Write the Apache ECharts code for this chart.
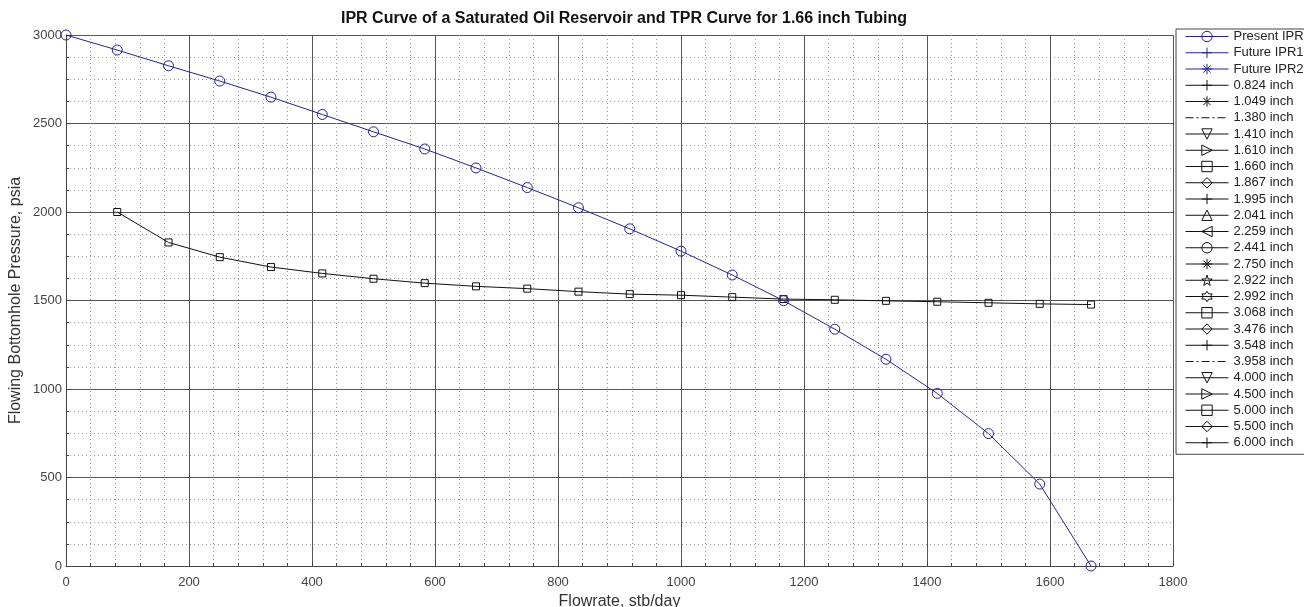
<!DOCTYPE html>
<html>
<head>
<meta charset="utf-8">
<script src="https://cdn.jsdelivr.net/npm/echarts@6/dist/echarts.min.js"></script>
<style>
  html, body { margin: 0; padding: 0; background: #fff; }
  #chart { width: 1304px; height: 607px; }
</style>
</head>
<body>
<div id="chart"></div>
<script>
// Flowrate steps (stb/day), qmax / 20
const flowrate = [0, 83.3, 166.7, 250, 333.3, 416.7, 500, 583.3, 666.7, 750, 833.3,
  916.7, 1000, 1083.3, 1166.7, 1250, 1333.3, 1416.7, 1500, 1583.3, 1666.7];

// Present IPR, flowing bottomhole pressure (psia)
const presentIpr = [3000, 2915, 2826, 2740, 2649, 2551, 2453, 2356, 2249, 2138, 2024,
  1905, 1779, 1644, 1499, 1338, 1168, 975, 748, 463, 0];

// TPR for 1.660 inch tubing, starts at the second flowrate
const tpr1660 = [2000, 1828, 1745, 1689, 1653, 1623, 1598, 1580, 1567, 1550,
  1536, 1530, 1519, 1508, 1504, 1498, 1493, 1487, 1481, 1477];

// Legend entries and their markers
const legendNames = ['Present IPR', 'Future IPR1', 'Future IPR2',
  '0.824 inch', '1.049 inch', '1.380 inch', '1.410 inch', '1.610 inch', '1.660 inch',
  '1.867 inch', '1.995 inch', '2.041 inch', '2.259 inch', '2.441 inch', '2.750 inch',
  '2.922 inch', '2.992 inch', '3.068 inch', '3.476 inch', '3.548 inch', '3.958 inch',
  '4.000 inch', '4.500 inch', '5.000 inch', '5.500 inch', '6.000 inch'];
const legendMarkers = ['circle', 'plus', 'star6', 'plus', 'star6', 'none', 'tdown', 'tright',
  'square', 'diamond', 'plus', 'tup', 'tleft', 'circle', 'star6', 'pent', 'hexa', 'square',
  'diamond', 'plus', 'none', 'tdown', 'tright', 'square', 'diamond', 'plus'];

const BLUE = '#25258c';
const INK = '#111';

const SYMBOLS = {
  circle: 'circle',
  square: 'rect',
  plus: 'path://M5,0L5,10M0,5L10,5',
  star6: 'path://M5,0L5,10M0,5L10,5M1.5,1.5L8.5,8.5M8.5,1.5L1.5,8.5',
  tdown: 'path://M0,0L10,0L5,9Z',
  tup: 'path://M5,0L10,9L0,9Z',
  tright: 'path://M0,0L9,5L0,10Z',
  tleft: 'path://M9,0L0,5L9,10Z',
  diamond: 'path://M3.5,0L7,6L3.5,12L0,6Z',
  pent: 'path://M5,0L6.2,3.6L10,3.6L7,5.9L8.1,9.5L5,7.3L1.9,9.5L3,5.9L0,3.6L3.8,3.6Z',
  hexa: 'path://M5,0L6.4,2.5L9.3,2.5L7.9,5L9.3,7.5L6.4,7.5L5,10L3.6,7.5L0.7,7.5L2.1,5L0.7,2.5L3.6,2.5Z',
  none: 'circle',
};

const seriesData = {
  'Present IPR': flowrate.map((q, i) => [q, presentIpr[i]]),
  '1.660 inch': tpr1660.map((p, i) => [flowrate[i + 1], p]),
};

const series = legendNames.map((name, i) => {
  const color = i < 3 ? BLUE : INK;
  const marker = legendMarkers[i];
  return {
    name: name,
    type: 'line',
    data: seriesData[name] || [],
    symbol: SYMBOLS[marker],
    symbolSize: marker === 'circle' ? 10 : 7,
    showSymbol: true,
    animation: false,
    lineStyle: {
      color: color,
      width: 1,
      type: marker === 'none' ? [8, 3, 2, 3] : 'solid',
    },
    itemStyle: {
      color: 'rgba(0,0,0,0)',
      borderColor: color,
      borderWidth: 1,
    },
    emphasis: { disabled: true },
    z: i === 0 ? 3 : 2,
  };
});

const legendData = legendNames.map((name, i) => {
  const color = i < 3 ? BLUE : INK;
  const hidden = legendMarkers[i] === 'none';
  return {
    name: name,
    itemStyle: {
      color: 'rgba(0,0,0,0)',
      borderColor: color,
      borderWidth: 1,
      opacity: hidden ? 0 : 1,
    },
    lineStyle: { color: color, width: 1 },
  };
});

const chart = echarts.init(document.getElementById('chart'), null, { renderer: 'canvas' });

chart.setOption({
  backgroundColor: '#fff',
  animation: false,
  textStyle: { fontFamily: 'Arial, "Liberation Sans", sans-serif' },
  title: {
    text: 'IPR Curve of a Saturated Oil Reservoir and TPR Curve for 1.66 inch Tubing',
    left: 619,
    top: 6,
    textAlign: 'center',
    textStyle: { fontSize: 16, fontWeight: 'bold', color: '#111' },
  },
  legend: {
    orient: 'vertical',
    left: 1176,
    top: 29,
    padding: [1, 6, 5, 9],
    itemWidth: 43,
    itemHeight: 13,
    itemGap: 3.25,
    selectedMode: false,
    backgroundColor: '#fff',
    borderColor: '#444',
    borderWidth: 1,
    textStyle: { fontSize: 13, lineHeight: 13, color: '#222' },
    data: legendData,
  },
  grid: {
    left: 66,
    right: 131,
    top: 35,
    bottom: 41,
    containLabel: false,
    outerBoundsMode: 'none',
  },
  xAxis: {
    type: 'value',
    min: 0,
    max: 1800,
    interval: 200,
    name: 'Flowrate, stb/day',
    nameLocation: 'middle',
    nameGap: 25,
    nameTextStyle: { fontSize: 16, color: '#333' },
    axisLine: { show: true, lineStyle: { color: '#444', width: 1 } },
    axisTick: { show: true, inside: true, length: 5, lineStyle: { color: '#444' } },
    minorTick: { show: true, splitNumber: 5, length: 3, lineStyle: { color: '#444' } },
    axisLabel: { fontSize: 13, color: '#444', margin: 10, formatter: (v) => String(v) },
    splitLine: { show: true, lineStyle: { color: '#555', width: 1 } },
    minorSplitLine: { show: true, lineStyle: { color: '#9a9a9a', type: [1, 3], width: 1 } },
  },
  yAxis: {
    type: 'value',
    min: 0,
    max: 3000,
    interval: 500,
    name: 'Flowing Bottomhole Pressure, psia',
    nameLocation: 'middle',
    nameGap: 42,
    nameMoveOverlap: false,
    nameTextStyle: { fontSize: 16, color: '#333' },
    axisLine: { show: true, lineStyle: { color: '#444', width: 1 } },
    axisTick: { show: true, inside: true, length: 5, lineStyle: { color: '#444' } },
    minorTick: { show: true, splitNumber: 4, length: 3, lineStyle: { color: '#444' } },
    axisLabel: { fontSize: 13, color: '#444', margin: 4, formatter: (v) => String(v) },
    splitLine: { show: true, lineStyle: { color: '#555', width: 1 } },
    minorSplitLine: { show: true, lineStyle: { color: '#9a9a9a', type: [1, 3], width: 1 } },
  },
  series: series,
});
</script>
</body>
</html>
